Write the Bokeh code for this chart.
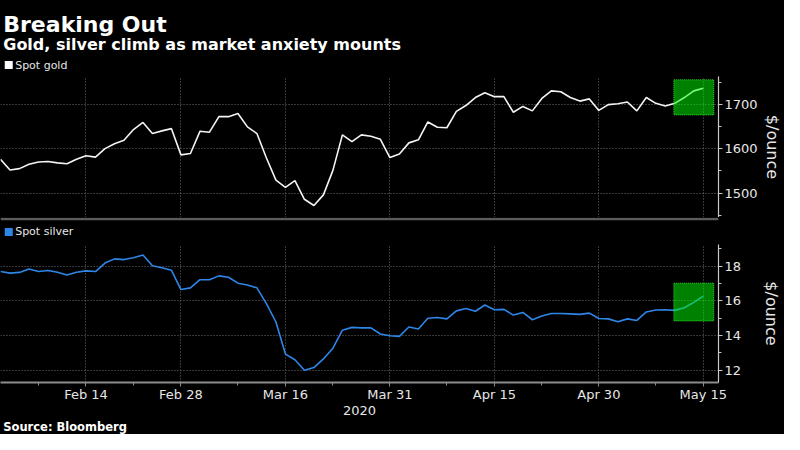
from bokeh.plotting import figure
from bokeh.layouts import column
from bokeh.models import Range1d, FixedTicker, Label, Span, ColumnDataSource
from bokeh.embed import file_html
from bokeh.resources import INLINE

# ---- data: one value per weekday, index 0 = Feb 3 2020 ... index 74 = May 15 2020
gold = [1576, 1552, 1555, 1565, 1570, 1571, 1568, 1566, 1576, 1584,
        1581, 1600, 1611, 1619, 1643, 1659, 1634, 1640, 1645, 1586,
        1589, 1639, 1637, 1672, 1672, 1679, 1649, 1634, 1579, 1529,
        1513, 1528, 1486, 1472, 1496, 1551, 1631, 1616, 1631, 1628,
        1621, 1580, 1588, 1613, 1620, 1660, 1648, 1647, 1684, 1697,
        1715, 1726, 1717, 1717, 1682, 1695, 1685, 1713, 1730, 1728,
        1715, 1707, 1712, 1686, 1699, 1701, 1705, 1685, 1715, 1702,
        1696, 1702, 1715, 1730, 1736]
silver = [17.69, 17.60, 17.64, 17.84, 17.69, 17.75, 17.65, 17.49, 17.65, 17.73,
          17.69, 18.18, 18.42, 18.38, 18.49, 18.64, 18.02, 17.91, 17.76, 16.65,
          16.75, 17.22, 17.22, 17.44, 17.36, 17.02, 16.91, 16.75, 15.84, 14.78,
          12.93, 12.60, 12.00, 12.15, 12.65, 13.27, 14.31, 14.47, 14.44, 14.44,
          14.09, 13.99, 13.95, 14.49, 14.38, 15.00, 15.04, 14.96, 15.42, 15.56,
          15.40, 15.76, 15.49, 15.51, 15.18, 15.33, 14.91, 15.13, 15.27, 15.27,
          15.25, 15.22, 15.29, 14.98, 14.96, 14.80, 14.96, 14.87, 15.36, 15.47,
          15.49, 15.45, 15.60, 15.91, 16.27]
day_index = list(range(len(gold)))

x_tick_index = [9, 19, 30, 41, 52, 63, 74]
x_tick_labels = ["Feb 14", "Feb 28", "Mar 16", "Mar 31", "Apr 15", "Apr 30", "May 15"]
x_minor_index = [4, 14, 25, 35, 47, 57, 69]
year_label = "2020"

gold_ticks = [1500, 1600, 1700]
gold_minor = [1450, 1550, 1650, 1750]
silver_ticks = [12, 14, 16, 18]
silver_minor = [13, 15, 17, 19]

highlight_x = [70.9, 75.1]
gold_highlight = [1676, 1755]
silver_highlight = [14.84, 17.02]

title = "Breaking Out"
subtitle = "Gold, silver climb as market anxiety mounts"
gold_name = "Spot gold"
silver_name = "Spot silver"
unit_label = "$/ounce"
source_text = "Source: Bloomberg"

# ---- style
BG = "#000000"
FONT = "DejaVu Sans"
GRID = "#6e6e6e"
TXT = "#e6e6e6"
GOLD_COL = "#f4f4f4"
SILVER_COL = "#2e86e8"
W = 784
RB = 60
BLACK_CSS = {"background-color": BG}

src = ColumnDataSource(dict(x=day_index, gold=gold, silver=silver))
x_range = Range1d(0, 75.6)


def text_strip(height):
    p = figure(width=W, height=height, x_range=Range1d(0, W), y_range=Range1d(height, 0),
               output_backend="svg", toolbar_location=None,
               x_axis_location=None, y_axis_location=None,
               min_border=0, background_fill_color=BG, border_fill_color=BG,
               styles=BLACK_CSS)
    p.outline_line_color = None
    p.grid.visible = False
    return p


def add_text(p, x, y, text, size, bold=False, color=TXT, baseline="middle"):
    p.add_layout(Label(x=x, y=y, text=text, text_color=color, text_font=FONT,
                       text_font_size=size, text_font_style="bold" if bold else "normal",
                       text_baseline=baseline))


def legend_key(p, y, text, color):
    p.scatter(x=[9], y=[y], marker="square", size=8, fill_color=color, line_color=None)
    add_text(p, 16, y, text, "11px")


def panel(height, y_range, bottom):
    p = figure(width=W, height=height, x_range=x_range, y_range=y_range,
               output_backend="svg", toolbar_location=None,
               y_axis_location="right", x_axis_location="below",
               min_border_left=0, min_border_right=RB,
               min_border_top=0, min_border_bottom=bottom,
               background_fill_color=BG, border_fill_color=BG, styles=BLACK_CSS)
    p.outline_line_color = None
    p.xgrid.ticker = FixedTicker(ticks=x_tick_index)
    for g in (p.xgrid[0], p.ygrid[0]):
        g.grid_line_color = GRID
        g.grid_line_dash = "1 2"
        g.grid_line_width = 1
    ax = p.yaxis[0]
    ax.axis_line_color = "#c8c8c8"
    ax.axis_line_width = 1.2
    ax.major_tick_line_color = "#c8c8c8"
    ax.minor_tick_line_color = "#c8c8c8"
    ax.major_tick_out = 4
    ax.major_tick_in = 0
    ax.minor_tick_out = 3
    ax.minor_tick_in = 0
    ax.major_label_standoff = 2
    ax.major_label_text_color = TXT
    ax.major_label_text_font = FONT
    ax.major_label_text_font_size = "13px"
    ax.axis_label = unit_label
    ax.axis_label_text_color = TXT
    ax.axis_label_text_font = FONT
    ax.axis_label_text_font_size = "16px"
    ax.axis_label_text_font_style = "normal"
    return p


# ---- header
ph = text_strip(76)
add_text(ph, 3, 24, title, "22px", bold=True, color="#ffffff", baseline="alphabetic")
add_text(ph, 3, 43.6, subtitle, "16px", bold=True, color="#ffffff", baseline="alphabetic")
legend_key(ph, 64.5, gold_name, "#ffffff")

# ---- gold panel
pg = panel(141, Range1d(1445, 1762.4), 0)
pg.xaxis.visible = False
pg.yaxis.ticker = FixedTicker(ticks=gold_ticks, minor_ticks=gold_minor)
pg.yaxis.axis_label_standoff = 2
pg.line("x", "gold", source=src, line_color=GOLD_COL, line_width=1.6)
pg.quad(left=[highlight_x[0]], right=[highlight_x[1]], bottom=[gold_highlight[0]],
        top=[gold_highlight[1]], fill_color="#00ff00", fill_alpha=0.5,
        line_color="#39ff39", line_dash="1 1", line_width=1, line_alpha=0.8)

# ---- separator strip with silver legend
pm = text_strip(27)
pm.add_layout(Span(location=1.6, dimension="width", line_color="#5c5c5c", line_width=2.5))
legend_key(pm, 14.4, silver_name, SILVER_COL)

# ---- silver panel
ps = panel(173, Range1d(11.29, 19.25), 32)
ps.yaxis.ticker = FixedTicker(ticks=silver_ticks, minor_ticks=silver_minor)
ps.yaxis.axis_label_standoff = 18
xa = ps.xaxis[0]
xa.ticker = FixedTicker(ticks=x_tick_index, minor_ticks=x_minor_index)
xa.major_label_overrides = {i: s for i, s in zip(x_tick_index, x_tick_labels)}
xa.axis_line_color = "#8c8c8c"
xa.axis_line_width = 2
xa.major_tick_line_color = "#8c8c8c"
xa.minor_tick_line_color = "#8c8c8c"
xa.major_tick_out = 4
xa.major_tick_in = 0
xa.minor_tick_out = 3
xa.minor_tick_in = 0
xa.major_label_standoff = 0
xa.major_label_text_color = TXT
xa.major_label_text_font = FONT
xa.major_label_text_font_size = "13px"
xa.axis_label = year_label
xa.axis_label_standoff = 1
xa.axis_label_text_color = TXT
xa.axis_label_text_font = FONT
xa.axis_label_text_font_size = "13px"
xa.axis_label_text_font_style = "normal"
ps.line("x", "silver", source=src, line_color=SILVER_COL, line_width=1.6)
ps.quad(left=[highlight_x[0]], right=[highlight_x[1]], bottom=[silver_highlight[0]],
        top=[silver_highlight[1]], fill_color="#00ff00", fill_alpha=0.5,
        line_color="#39ff39", line_dash="1 1", line_width=1, line_alpha=0.8)

# ---- footer
pf = text_strip(17)
add_text(pf, 3, 9.5, source_text, "11.5px", bold=True, color="#ffffff")

layout = column(ph, pg, pm, ps, pf, spacing=0, styles=BLACK_CSS)
open("out.html", "w").write(file_html(layout, INLINE))
